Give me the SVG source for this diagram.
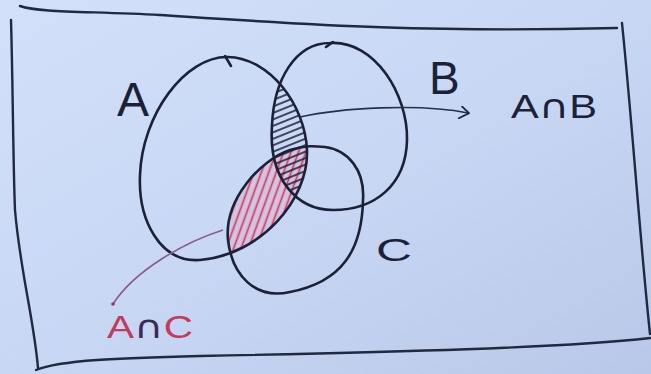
<svg xmlns="http://www.w3.org/2000/svg" width="651" height="374" viewBox="0 0 651 374">
<style>
.ink{fill:none;stroke:#1b2238;stroke-width:2.6;stroke-linecap:round;stroke-linejoin:round}
.frame{fill:none;stroke:#1f2940;stroke-width:2.4;stroke-linecap:round}
.lbl{font-family:"Liberation Sans",Arial,sans-serif;fill:#1b2238}
.cap{font-family:"DejaVu Sans",sans-serif}
.red{fill:#c23a5c}
.dk{fill:#3a2a55}
</style>
<defs>
<linearGradient id="bg" x1="0" y1="0" x2="1" y2="1">
<stop offset="0" stop-color="#d2e0fa"/>
<stop offset="0.5" stop-color="#c8d7f4"/>
<stop offset="1" stop-color="#b9c8e8"/>
</linearGradient>
<pattern id="hatchDark" width="6" height="6" patternUnits="userSpaceOnUse" patternTransform="rotate(-22)">
<line x1="0" y1="3" x2="6" y2="3" stroke="#1b2238" stroke-width="1.6"/>
</pattern>
<pattern id="hatchRed" width="7" height="7" patternUnits="userSpaceOnUse" patternTransform="rotate(-70)">
<line x1="0" y1="3.5" x2="7" y2="3.5" stroke="#d03a5e" stroke-width="1.7"/>
</pattern>
<clipPath id="clipA"><path d="M228,57 C270,58 305,105 307,150 C309,200 260,255 200,260 C160,263 138,220 140,175 C142,115 185,56 228,57 Z"/></clipPath>
<clipPath id="clipB"><path d="M330,43 C375,40 408,95 407,140 C406,185 375,210 333,210 C298,210 268,180 272,125 C274,80 295,43 330,43 Z"/></clipPath>
<clipPath id="clipC"><path d="M325,147 C348,150 365,170 363,200 C362,250 342,282 290,292 C255,300 232,275 228,240 C224,200 260,160 290,150 C305,145 315,146 325,147 Z"/></clipPath>
<marker id="chev" viewBox="0 0 12 14" refX="10" refY="6" markerWidth="12" markerHeight="14" markerUnits="userSpaceOnUse" orient="auto">
<path d="M3,1 L11,6 L2,13" fill="none" stroke="#1b2238" stroke-width="1.8" stroke-linecap="round" stroke-linejoin="round"/>
</marker>
</defs>
<rect width="651" height="374" fill="url(#bg)"/>
<g id="frame">
<path class="frame" d="M20,6 C40,13 90,11 160,15 C300,24 420,33 617,28"/>
<path class="frame" d="M622,23 C632,120 640,240 650,334"/>
<path class="frame" d="M36,370 C60,360 120,358 200,356 C400,352 560,348 650,338"/>
<path class="frame" d="M11,20 C13,90 13,160 15,210 C20,270 34,320 38,368" stroke-width="2.8"/>
</g>
<g id="hatching">
<g clip-path="url(#clipA)"><g clip-path="url(#clipC)">
<rect x="200" y="130" width="120" height="140" fill="#e0b0cc" opacity="0.45"/>
<rect x="200" y="130" width="120" height="140" fill="url(#hatchRed)"/>
</g></g>
<g clip-path="url(#clipA)"><g clip-path="url(#clipB)">
<rect x="260" y="80" width="60" height="140" fill="url(#hatchDark)"/>
</g></g>
</g>
<g id="node-A">
<path class="ink" d="M228,57 C270,58 305,105 307,150 C309,200 260,255 200,260 C160,263 138,220 140,175 C142,115 185,56 228,57 Z"/>
<path class="ink" d="M225,56 L231,66" stroke-width="2"/>
<text class="lbl" x="117" y="116" font-size="48">A</text>
</g>
<g id="node-B">
<path class="ink" d="M330,43 C375,40 408,95 407,140 C406,185 375,210 333,210 C298,210 268,180 272,125 C274,80 295,43 330,43 Z"/>
<path class="ink" d="M326,47 L333,42" stroke-width="2"/>
<text class="lbl" x="429" y="94" font-size="46">B</text>
</g>
<g id="node-C">
<path class="ink" d="M325,147 C348,150 365,170 363,200 C362,250 342,282 290,292 C255,300 232,275 228,240 C224,200 260,160 290,150 C305,145 315,146 325,147 Z"/>
<text class="lbl" x="376" y="261" font-size="32" textLength="36" lengthAdjust="spacingAndGlyphs">C</text>
</g>
<g id="connectors">
<path d="M300,117 C340,108 420,103 468,113" fill="none" stroke="#27304a" stroke-width="1.6" marker-end="url(#chev)"/>
<path d="M223,230 C185,242 135,270 113,304" fill="none" stroke="#8a5a90" stroke-width="1.6"/>
<circle cx="113" cy="304" r="1.8" fill="#8a3a6a"/>
</g>
<g id="label-AnB">
<text class="lbl" x="511" y="118" font-size="33" textLength="86" lengthAdjust="spacingAndGlyphs">A<tspan class="cap">∩</tspan>B</text>
</g>
<g id="label-AnC">
<text class="lbl" x="107" y="338" font-size="32" textLength="86" lengthAdjust="spacingAndGlyphs"><tspan class="red">A</tspan><tspan class="dk cap">∩</tspan><tspan class="red">C</tspan></text>
</g>
</svg>
